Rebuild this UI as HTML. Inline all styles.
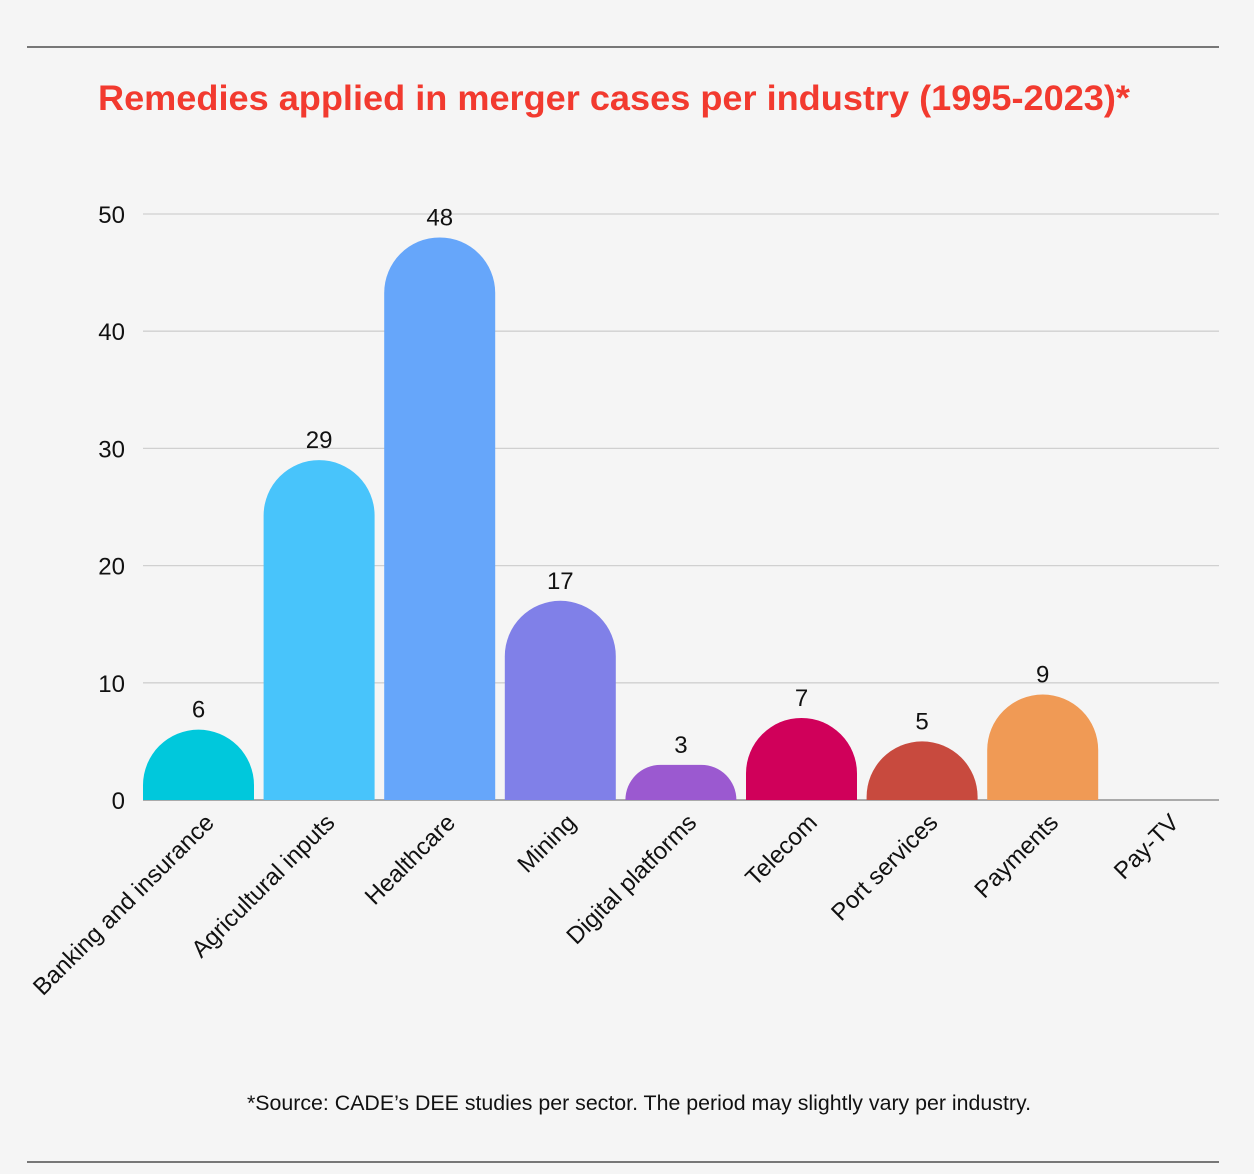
<!DOCTYPE html>
<html><head><meta charset="utf-8"><style>
html,body{margin:0;padding:0;background:#f5f5f5;}
svg{display:block;font-family:"Liberation Sans",sans-serif;}
</style></head><body>
<svg id="chart" width="1254" height="1174" viewBox="0 0 1254 1174">
<rect width="1254" height="1174" fill="#f5f5f5"/>
<line x1="27" y1="47" x2="1219" y2="47" stroke="#777" stroke-width="2"/>
<text x="98" y="110" font-size="35" font-weight="bold" fill="#f23a2f" textLength="1032" lengthAdjust="spacingAndGlyphs">Remedies applied in merger cases per industry (1995-2023)*</text>
<g id="grid"></g><g id="bars"></g><g id="labels"></g>
<text x="639" y="1110" font-size="21" fill="#111" text-anchor="middle" textLength="784" lengthAdjust="spacingAndGlyphs">*Source: CADE’s DEE studies per sector. The period may slightly vary per industry.</text>
<line x1="27" y1="1162" x2="1219" y2="1162" stroke="#777" stroke-width="2"/>
</svg>
<script>
const categories=["Banking and insurance","Agricultural inputs","Healthcare","Mining","Digital platforms","Telecom","Port services","Payments","Pay-TV"];
const values=[6,29,48,17,3,7,5,9,0];
const colors=["#00c8dc","#48c4fb","#66a6fa","#8080e8","#9b59d0","#d0005a","#c84a3e","#f09a55","#cccccc"];
const ticks=[0,10,20,30,40,50];
const NS="http://www.w3.org/2000/svg";
const x0=143,x1=1219,y0=800,pxPer=(800-214)/50;
const slot=120.6,bw=111;
const y=v=>y0-v*pxPer;
const xs=i=>x0+i*slot;
function mk(t,a,p){const e=document.createElementNS(NS,t);for(const k in a)e.setAttribute(k,a[k]);p.appendChild(e);return e;}
const grid=document.getElementById('grid'),bars=document.getElementById('bars'),labels=document.getElementById('labels');
ticks.forEach(t=>{
 const l=mk('line',{x1:x0,x2:x1,y1:y(t),y2:y(t),stroke:t===0?'#aaa':'#d0d0d0','stroke-width':t===0?2:1.3},grid);
 
 
 const tx=mk('text',{x:125,y:y(t)+9,'font-size':24,'text-anchor':'end',fill:'#111'},grid);
 tx.textContent=t;
 
 
});
categories.forEach((c,i)=>{
 const v=values[i],left=xs(i),cx=left+bw/2;
 if(v>0){
  const top=y(v),h=y0-top,r=Math.min(bw/2,h);
  const d=`M${left},${y0} L${left},${top+r} A${r},${r} 0 0 1 ${left+r},${top} L${left+bw-r},${top} A${r},${r} 0 0 1 ${left+bw},${top+r} L${left+bw},${y0} Z`;
  const p=mk('path',{d:d,fill:colors[i]},bars);
  
  
  const vt=mk('text',{x:cx,y:top-12,'font-size':24,'text-anchor':'middle',fill:'#111'},labels);
  vt.textContent=v;
  
  
 }
 const lt=mk('text',{x:cx+17,y:824,'font-size':24,'text-anchor':'end',fill:'#111',transform:`rotate(-45 ${cx+17} 824)`},labels);
 lt.textContent=c;
 
 
});
</script>
</body></html>
